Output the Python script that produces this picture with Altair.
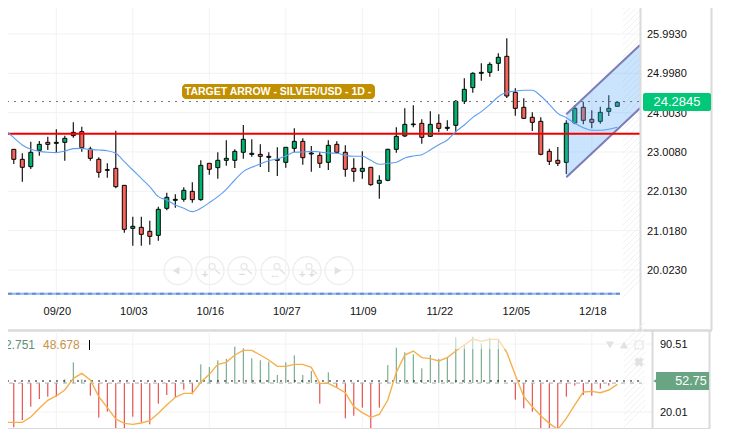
import altair as alt
import pandas as pd

highs = [23.185,23.075,22.974,23.269,23.286,23.395,23.581,23.421,23.758,23.648,23.142,22.873,22.721,23.547,22.173,21.372,21.372,21.270,21.624,21.979,21.936,22.114,22.240,22.797,22.721,23.000,23.303,23.075,23.691,23.328,23.201,23.000,23.126,23.126,23.606,23.353,23.159,23.000,23.303,23.277,23.176,22.847,23.024,22.620,22.417,23.092,23.632,24.112,24.188,23.834,24.036,23.960,23.809,24.323,24.871,25.023,25.251,25.276,25.504,25.883,24.618,24.365,24.011,23.885,23.092,23.134,23.809,24.197,24.281,24.062,24.155,24.441,24.264]
lows = [22.788,22.704,22.257,22.577,22.915,23.058,23.000,22.788,23.370,23.016,22.788,22.358,22.358,22.088,20.967,20.638,20.638,20.663,20.764,21.532,21.599,21.751,21.726,21.776,22.434,22.333,22.662,22.603,22.839,22.889,22.628,22.501,22.400,22.611,23.000,22.687,22.510,22.603,22.552,22.974,22.383,22.257,22.333,22.156,21.827,22.265,22.991,23.387,23.632,23.218,23.395,23.505,23.547,23.505,24.222,24.509,24.812,24.913,25.057,24.374,23.927,23.851,23.539,22.923,22.679,22.653,22.451,23.707,23.707,23.606,23.724,23.918,24.163]
opens = [23.016,23.075,22.822,22.636,23.050,23.252,23.227,23.252,23.505,23.522,23.083,22.822,22.544,22.594,22.164,21.076,21.102,21.000,20.899,21.582,21.785,21.810,22.012,21.802,22.721,22.611,22.797,22.797,23.000,22.948,22.948,22.873,22.797,22.746,23.100,23.277,22.957,22.923,22.746,23.201,23.000,22.594,22.518,22.620,22.215,22.291,23.075,23.412,23.699,23.733,23.404,23.733,23.606,23.682,24.289,24.635,24.998,25.023,25.251,25.428,24.517,24.138,23.885,23.783,23.024,22.797,22.746,23.741,24.138,23.834,23.783,24.036,24.163]
closes = [23.075,22.822,22.620,23.000,23.201,23.201,23.252,23.353,23.421,23.117,22.847,22.493,22.561,22.130,21.051,21.127,20.924,20.874,21.557,21.861,21.810,22.038,21.802,22.670,22.569,22.797,22.847,23.024,23.328,22.974,22.898,22.898,22.822,23.126,23.277,22.864,22.982,22.721,23.176,23.000,22.569,22.518,22.594,22.181,22.291,23.075,23.404,23.707,23.716,23.378,23.707,23.606,23.632,24.289,24.593,24.998,25.023,25.225,25.403,24.424,24.112,23.859,23.758,22.949,22.771,22.721,23.733,24.112,23.809,23.758,24.011,24.112,24.264]
moving_avg = [23.775,23.564,23.370,23.185,23.075,23.024,23.000,22.991,23.033,23.092,23.100,23.067,23.058,23.041,22.974,22.763,22.552,22.341,22.130,21.877,21.793,21.667,21.582,21.498,21.582,21.726,21.877,22.063,22.299,22.510,22.620,22.704,22.788,22.830,22.906,23.000,23.008,23.024,23.008,22.982,22.974,22.923,22.898,22.898,22.797,22.696,22.721,22.746,22.856,22.906,22.940,23.058,23.193,23.311,23.522,23.691,23.885,24.028,24.205,24.407,24.517,24.551,24.568,24.568,24.424,24.213,23.986,23.876,23.733,23.623,23.556,23.556,23.581,23.632]
histogram = [11.71,4.11,11.71,25.54,33.49,35.91,35.91,53.88,71.50,53.88,36.94,14.13,20.35,3.07,1.69,15.17,9.29,7.22,28.65,37.63,35.56,43.16,38.33,69.43,66.66,73.58,74.96,87.75,86.02,75.65,73.58,72.19,58.37,71.50,78.76,58.37,62.52,28.65,61.13,45.93,13.44,16.21,24.50,1.69,24.50,68.74,86.71,81.87,79.80,65.28,79.11,74.96,77.03,97.42,90.17,98.11,91.20,97.08,94.66,50.0,32.80,23.81,20.35,1.00,1.69,2.38,35.91,47.31,37.63,36.94,44.20,47.31,50.0]
signal = [9.29,9.29,9.29,14.82,23.81,32.10,36.60,42.82,54.91,60.10,53.19,35.91,24.50,12.75,8.26,7.22,8.60,11.02,18.63,27.27,35.21,39.36,39.36,50.77,59.06,69.43,71.50,79.11,83.94,83.94,79.11,73.92,67.36,67.36,69.43,69.43,66.32,49.73,49.73,45.24,40.05,25.54,19.32,14.48,17.59,32.45,61.13,79.11,83.25,76.34,75.30,72.89,76.34,83.25,89.47,95.69,93.28,95.35,95.35,81.87,58.37,35.91,25.54,16.21,8.26,2.04,13.44,27.27,40.74,41.43,40.05,42.82,48.69]
price_ticks = [25.993,24.998,24.003,23.008,22.013,21.018,20.023]
date_labels = ["09/20","10/03","10/16","10/27","11/09","11/22","12/05","12/18"]
date_index = [6,15,24,33,42,51,60,69]
ind_ticks = [90.51,20.01]
last_price = 24.2845
last_ind = 52.75
support = 23.47
floor_line = 19.42
channel_i = [66,74.67]
channel_low = [22.367,24.113]
channel_high = [23.961,25.715]

# pane geometry helpers: map layout positions in pixels onto the data scales
X0, DX = 5.3, 8.5
def ix(px): return (px - X0) / DX
def pr(py): return 26.853 - 0.0253 * py
def iv(py): return 90.51 - (py - 344) * 1.0368

WIDTH = 721
x_scale = alt.Scale(domain=[ix(0), ix(WIDTH)], nice=False, zero=False, padding=0)
yp_scale = alt.Scale(domain=[pr(330), pr(0)], range=[330, 0], nice=False, zero=False, padding=0)
yi_scale = alt.Scale(domain=[iv(431), iv(331)], range=[431, 331], nice=False, zero=False, padding=0)
FONT = "Liberation Sans"

X = lambda f="i": alt.X(f"{f}:Q", scale=x_scale, axis=None, title=None)
X2 = lambda f="i2": alt.X2(f"{f}:Q")
YP = lambda f="y": alt.Y(f"{f}:Q", scale=yp_scale, axis=None, title=None)
YI = lambda f="y": alt.Y(f"{f}:Q", scale=yi_scale, axis=None, title=None)
Y2 = lambda f="y2": alt.Y2(f"{f}:Q")

candles = pd.DataFrame({"i": range(len(opens)), "o": opens, "c": closes, "h": highs, "l": lows})
candles["dir"] = ["up" if c >= o else "down" for o, c in zip(opens, closes)]
ma = pd.DataFrame({"i": range(-1, len(moving_avg) - 1), "v": moving_avg})
ind = pd.DataFrame({"i": range(len(histogram)), "h": histogram, "s": signal, "b": [50.0] * len(histogram)})
ind["dir"] = ["up" if h >= 50 else "down" for h in histogram]


def hlines(vals, a, b, conv=None):
    return pd.DataFrame({"i": [ix(a)] * len(vals), "i2": [ix(b)] * len(vals), "y": vals})


def segs(rows):
    return pd.DataFrame(rows, columns=["i", "i2", "y", "y2"])


def rule(df, yenc, color, width=1, dash=None, **kw):
    args = dict(color=color, strokeWidth=width)
    if dash:
        args["strokeDash"] = dash
    args.update(kw)
    return alt.Chart(df).mark_rule(**args).encode(x=X(), x2=X2(), y=yenc)


def text(df, yenc, **kw):
    return alt.Chart(df).mark_text(font=FONT, **kw).encode(x=X(), y=yenc, text="t:N")


GRID = "#f2f2f2"
FRAME = "#dadada"

# ---------- price pane ----------
price_layers = []
price_layers.append(rule(hlines(price_ticks, 0, 640), YP(), GRID))
price_layers.append(alt.Chart(pd.DataFrame({"i": date_index, "y": [pr(0)] * 8, "y2": [pr(300)] * 8}))
                    .mark_rule(color=GRID, strokeWidth=1).encode(x=X(), y=YP(), y2=Y2()))
# hatch
hatch = [(ix(623), ix(640), pr(y0 + 17), pr(y0)) for y0 in range(-14, 286, 6)]
price_layers.append(alt.Chart(segs(hatch)).mark_rule(color="#f1f1f1", strokeWidth=1)
                    .encode(x=X(), x2=X2(), y=YP(), y2=Y2()))
# nav buttons
btn_x = [178, 210, 242, 275, 307, 339]
price_layers.append(alt.Chart(pd.DataFrame({"i": [ix(p) for p in btn_x], "y": [pr(270.7)] * 6}))
                    .mark_point(shape="circle", size=780, stroke="#e8e8e8", strokeWidth=1.3, filled=False)
                    .encode(x=X(), y=YP()))
price_layers.append(alt.Chart(pd.DataFrame({"i": [ix(176), ix(338)], "y": [pr(270.7)] * 2, "s": ["triangle-left", "triangle-right"]}))
                    .mark_point(filled=True, color="#e2e2e2", size=60, opacity=1)
                    .encode(x=X(), y=YP(), shape=alt.Shape("s:N", scale=None)))
mag_x = btn_x[1:5]
price_layers.append(alt.Chart(pd.DataFrame({"i": [ix(p + 2) for p in mag_x], "y": [pr(266.5)] * 4}))
                    .mark_point(shape="circle", size=36, stroke="#e2e2e2", strokeWidth=1.4, filled=False)
                    .encode(x=X(), y=YP()))
price_layers.append(alt.Chart(segs([(ix(p + 5), ix(p + 10), pr(269.5), pr(274)) for p in mag_x]))
                    .mark_rule(color="#e2e2e2", strokeWidth=1.5)
                    .encode(x=X(), x2=X2(), y=YP(), y2=Y2()))
glyphs = pd.DataFrame({"i": [ix(btn_x[1] - 5), ix(btn_x[2]), ix(btn_x[3]), ix(btn_x[4])], "y": [pr(275)] * 4,
                       "t": ["+", "−", "↔", "+ +"]})
price_layers.append(text(glyphs, YP(), fontSize=11, color="#dcdcdc", fontWeight="bold", align="center", baseline="middle"))

# candles
price_layers.append(alt.Chart(candles).mark_rule(color="#000000", strokeWidth=1.1)
                    .encode(x=X(), y=YP("l"), y2=Y2("h")))
price_layers.append(alt.Chart(candles).mark_bar(size=4, stroke="#000000", strokeWidth=1, orient="vertical")
                    .encode(x=X(), y=YP("o"), y2=Y2("c"),
                            color=alt.Color("dir:N", legend=None,
                                            scale=alt.Scale(domain=["up", "down"], range=["#00b46e", "#f8645a"]))))
# channel
channel = pd.DataFrame({"i": channel_i, "lo": channel_low, "hi": channel_high})
price_layers.append(alt.Chart(channel).mark_area(color="#5badf5", opacity=0.33)
                    .encode(x=X(), y=YP("lo"), y2=Y2("hi")))
for f in ("lo", "hi"):
    price_layers.append(alt.Chart(channel).mark_line(color="#7c7cb8", strokeWidth=2)
                        .encode(x=X(), y=YP(f)))
# levels and moving average
price_layers.append(rule(hlines([last_price], 0, 640), YP(), "#777777", 1, [2, 5]))
price_layers.append(rule(hlines([floor_line], 0, 620), YP(), "#93b2ea", 2))
price_layers.append(rule(hlines([floor_line], 0, 620), YP(), "#5f8fdc", 2, [4, 4]))
price_layers.append(rule(hlines([support], 0, 640), YP(), "#f00000", 2))
price_layers.append(alt.Chart(ma).mark_line(color="#5c9df2", strokeWidth=1.1, interpolate="monotone")
                    .encode(x=X(), y=YP("v")))

# frames
price_layers.append(alt.Chart(segs([(ix(640.5), ix(640.5), pr(0), pr(330)),
                                    (ix(711.5), ix(711.5), pr(0), pr(330))]))
                    .mark_rule(color=FRAME, strokeWidth=2).encode(x=X(), y=YP(), y2=Y2()))
price_layers.append(rule(hlines([pr(330.5)], 0, 712), YP(), FRAME, 2.5))

# axis text
price_layers.append(text(pd.DataFrame({"i": [ix(647)] * 7, "y": price_ticks,
                                       "t": ["%.4f" % p for p in price_ticks]}),
                         YP(), fontSize=11, color="#111111", align="left", baseline="middle", dy=1))
price_layers.append(text(pd.DataFrame({"i": date_index, "y": [pr(311)] * 8, "t": date_labels}),
                         YP(), fontSize=11, color="#111111", align="center", baseline="middle", dx=1, dy=1))
# last price tag
tag = pd.DataFrame({"i": [ix(643)], "i2": [ix(711)], "y": [pr(93)], "y2": [pr(111)]})
price_layers.append(alt.Chart(tag).mark_rect(color="#00c878", cornerRadius=2)
                    .encode(x=X(), x2=X2(), y=YP(), y2=Y2()))
price_layers.append(text(pd.DataFrame({"i": [ix(677)], "y": [pr(102)], "t": ["%.4f" % last_price]}),
                         YP(), fontSize=13, color="#ffffff", align="center", baseline="middle"))
# title banner
ban = pd.DataFrame({"i": [ix(182)], "i2": [ix(375)], "y": [pr(84)], "y2": [pr(99)]})
price_layers.append(alt.Chart(ban).mark_rect(color="#c18f00", cornerRadius=4)
                    .encode(x=X(), x2=X2(), y=YP(), y2=Y2()))
price_layers.append(text(pd.DataFrame({"i": [ix(278)], "y": [pr(91.5)], "t": ["TARGET ARROW - SILVER/USD - 1D -"]}),
                         YP(), fontSize=10.5, color="#ffffff", align="center", baseline="middle", fontWeight="bold"))

# ---------- indicator pane ----------
ind_layers = []
ind_layers.append(rule(hlines(ind_ticks, 0, 652), YI(), GRID))
ind_layers.append(alt.Chart(pd.DataFrame({"i": date_index, "y": [iv(331)] * 8, "y2": [iv(431)] * 8}))
                  .mark_rule(color=GRID, strokeWidth=1).encode(x=X(), y=YI(), y2=Y2()))
hatch2 = [(ix(624), ix(645), iv(y0 + 21), iv(y0)) for y0 in range(322, 412, 6)]
ind_layers.append(alt.Chart(segs(hatch2)).mark_rule(color="#f1f1f1", strokeWidth=1)
                  .encode(x=X(), x2=X2(), y=YI(), y2=Y2()))
ind_layers.append(alt.Chart(ind).mark_rule(strokeWidth=1)
                  .encode(x=X(), y=YI("h"), y2=Y2("b"),
                          color=alt.Color("dir:N", legend=None,
                                          scale=alt.Scale(domain=["up", "down"], range=["#5f9f7a", "#e53030"]))))
ind_layers.append(rule(hlines([50.0], 0, 642), YI(), "#aaaaaa", 1, [4, 5]))
ind_layers.append(rule(hlines([last_ind - 0.6], 0, 642), YI(), "#111111", 1, [2, 5]))
ind_layers.append(alt.Chart(ind).mark_line(color="#f5b04c", strokeWidth=1.4).encode(x=X(), y=YI("s")))
# fade over the top of the pane
fade = pd.DataFrame({"i": [ix(453)], "i2": [ix(510)], "y": [iv(333)], "y2": [iv(349)]})
ind_layers.append(alt.Chart(fade).mark_rect(color="#ffffff", opacity=0.55)
                  .encode(x=X(), x2=X2(), y=YI(), y2=Y2()))
# pane toolbar
icons = pd.DataFrame({"i": [ix(610), ix(624)], "y": [iv(345)] * 2, "s": ["triangle-down", "triangle-up"]})
ind_layers.append(alt.Chart(icons).mark_point(filled=True, color="#e2e2e2", size=70, opacity=1)
                  .encode(x=X(), y=YI(), shape=alt.Shape("s:N", scale=None)))
ind_layers.append(alt.Chart(pd.DataFrame({"i": [ix(639)], "y": [iv(345)]}))
                  .mark_point(shape="square", size=60, stroke="#e2e2e2", strokeWidth=1.3, filled=False)
                  .encode(x=X(), y=YI()))
ind_layers.append(alt.Chart(pd.DataFrame({"i": [ix(639)], "y": [iv(362)]}))
                  .mark_point(shape="cross", angle=45, size=90, filled=True, color="#e2e2e2", opacity=1)
                  .encode(x=X(), y=YI()))
# frames
ind_layers.append(alt.Chart(segs([(ix(652.5), ix(652.5), iv(331), iv(431)),
                                  (ix(709.5), ix(709.5), iv(331), iv(431))]))
                  .mark_rule(color=FRAME, strokeWidth=2).encode(x=X(), y=YI(), y2=Y2()))
ind_layers.append(rule(hlines([iv(429)], 0, 710), YI(), FRAME, 2))
# axis and legend text
ind_layers.append(text(pd.DataFrame({"i": [ix(660)] * 2, "y": ind_ticks, "t": ["%.2f" % v for v in ind_ticks]}),
                       YI(), fontSize=11, color="#111111", align="left", baseline="middle", dy=1))
ind_layers.append(text(pd.DataFrame({"i": [ix(35)], "y": [iv(345)], "t": ["52.751"]}),
                       YI(), fontSize=12, color="#5f8f78", align="right", baseline="middle"))
ind_layers.append(text(pd.DataFrame({"i": [ix(43)], "y": [iv(345)], "t": ["48.678"]}),
                       YI(), fontSize=12, color="#c8924a", align="left", baseline="middle"))
ind_layers.append(alt.Chart(pd.DataFrame({"i": [ix(89.5)], "y": [iv(340)], "y2": [iv(350)]}))
                  .mark_rule(color="#000000", strokeWidth=1).encode(x=X(), y=YI(), y2=Y2()))
# value tag
ind_layers.append(alt.Chart(pd.DataFrame({"i": [ix(656)], "i2": [ix(709)], "y": [iv(372)], "y2": [iv(390)]}))
                  .mark_rect(color="#6aa583").encode(x=X(), x2=X2(), y=YI(), y2=Y2()))
ind_layers.append(alt.Chart(pd.DataFrame({"i": [ix(655.5)], "y": [iv(381)]}))
                  .mark_point(shape="triangle-left", filled=True, size=30, color="#6aa583", opacity=1)
                  .encode(x=X(), y=YI()))
ind_layers.append(text(pd.DataFrame({"i": [ix(691)], "y": [iv(381)], "t": ["%.2f" % last_ind]}),
                       YI(), fontSize=12.5, color="#ffffff", align="center", baseline="middle"))

chart = (
    alt.layer(alt.layer(*price_layers), alt.layer(*ind_layers))
    .resolve_scale(y="independent", color="independent", shape="independent")
    .properties(width=WIDTH, height=429,
                padding={"left": -8, "top": -8, "right": 0, "bottom": 0},
                autosize=alt.AutoSizeParams(type="none"))
    .configure_view(stroke=None)
    .configure(background="#ffffff")
)
chart.save("out.html", embed_options={"renderer": "svg", "actions": False})
